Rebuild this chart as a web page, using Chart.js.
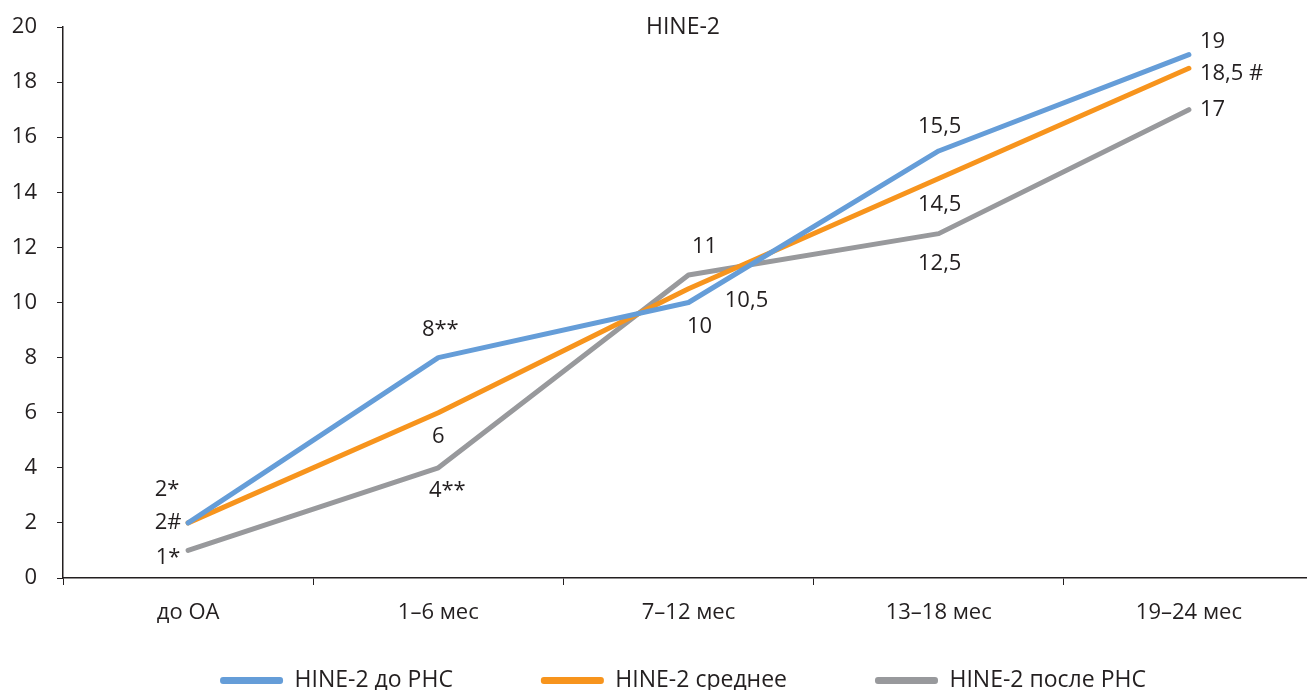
<!DOCTYPE html>
<html>
<head>
<meta charset="utf-8">
<script src="https://cdn.jsdelivr.net/npm/chart.js@4/dist/chart.umd.min.js"></script>
<style>
  html, body { margin: 0; padding: 0; background: #fff; }
  #wrap { width: 1307px; height: 690px; }
</style>
</head>
<body>
<div id="wrap"><canvas id="hineChart"></canvas></div>
<script>
// Chart data
const categories = ['до ОА', '1–6 мес', '7–12 мес', '13–18 мес', '19–24 мес'];
const beforeValues = [2, 8, 10, 15.5, 19];
const meanValues = [2, 6, 10.5, 14.5, 18.5];
const afterValues = [1, 4, 11, 12.5, 17];
const beforeLabels = ['2*', '8**', '10', '15,5', '19'];
const meanLabels = ['2#', '6', '10,5', '14,5', '18,5 #'];
const afterLabels = ['1*', '4**', '11', '12,5', '17'];
const yTicks = [0, 2, 4, 6, 8, 10, 12, 14, 16, 18, 20];

// where each value label sits relative to its point: [dx, dy, align]
const beforeLabelPos = [[-21, -33, 'center'], [2, -28, 'center'], [11, 24, 'center'], [1, -24, 'center'], [11, -13, 'left']];
const meanLabelPos = [[-20, 0, 'center'], [0, 24, 'center'], [58, 12, 'center'], [1, 26, 'center'], [11, 5, 'left']];
const afterLabelPos = [[-20, 7, 'center'], [9, 23, 'center'], [16, -28, 'center'], [1, 30, 'center'], [11, 0, 'left']];

const textColor = '#231f20';
const fontFamily = '"Open Sans", "Noto Sans", sans-serif';

// Draws the value labels next to points
const valueLabels = {
    id: 'valueLabels',
    afterDatasetsDraw(chart) {
        const ctx = chart.ctx;
        ctx.save();
        ctx.font = '22px ' + fontFamily;
        ctx.fillStyle = textColor;
        ctx.textBaseline = 'middle';
        chart.data.datasets.forEach((ds, i) => {
            const meta = chart.getDatasetMeta(i);
            meta.data.forEach((pt, j) => {
                const pos = ds.labelPos[j];
                ctx.textAlign = pos[2];
                ctx.fillText(ds.valueLabels[j], pt.x + pos[0], pt.y + pos[1]);
            });
        });
        ctx.restore();
    }
};

// the x axis in the original runs a few pixels past the right edge of the picture
const widenPlot = {
    id: 'widenPlot',
    afterLayout(chart) {
        const extra = 7;
        const x = chart.scales.x;
        x.right += extra;
        x.width += extra;
        x.configure();
        chart.chartArea.right += extra;
        chart.chartArea.width += extra;
    }
};

// axis boxes are squeezed to place the plot; let their labels draw outside the box
function noLabelClip(scale) {
    scale._computeLabelArea = function() { return undefined; };
}

document.addEventListener('DOMContentLoaded', function() {
    const ctx = document.getElementById('hineChart').getContext('2d');
    new Chart(ctx, {
        type: 'line',
        data: {
            labels: categories,
            datasets: [{
                label: 'HINE-2 до РНС',
                data: beforeValues,
                valueLabels: beforeLabels,
                labelPos: beforeLabelPos,
                borderColor: '#659dd8',
                backgroundColor: '#659dd8'
            }, {
                label: 'HINE-2 среднее',
                data: meanValues,
                valueLabels: meanLabels,
                labelPos: meanLabelPos,
                borderColor: '#f7941d',
                backgroundColor: '#f7941d'
            }, {
                label: 'HINE-2 после РНС',
                data: afterValues,
                valueLabels: afterLabels,
                labelPos: afterLabelPos,
                borderColor: '#98999c',
                backgroundColor: '#98999c'
            }]
        },
        options: {
            responsive: true,
            maintainAspectRatio: false,
            animation: false,
            elements: {
                line: { borderWidth: 5, tension: 0, borderCapStyle: 'round', borderJoinStyle: 'round' },
                point: { radius: 0, hoverRadius: 0 }
            },
            layout: {
                padding: { left: 59, right: 0, top: 0, bottom: -12 }
            },
            plugins: {
                title: {
                    display: true,
                    text: 'HINE-2',
                    color: textColor,
                    font: { family: fontFamily, size: 23, weight: 'normal', lineHeight: 1.2 },
                    padding: { top: 14, bottom: -14.6 }
                },
                legend: {
                    position: 'bottom',
                    labels: {
                        color: textColor,
                        font: { family: fontFamily, size: 23 },
                        boxWidth: 63,
                        boxHeight: 7,
                        useBorderRadius: true,
                        borderRadius: 3,
                        padding: 88,
                        generateLabels: function(chart) {
                            const items = Chart.defaults.plugins.legend.labels.generateLabels(chart);
                            items.forEach(item => { item.lineWidth = 0; });
                            return items;
                        }
                    }
                },
                tooltip: { enabled: false }
            },
            scales: {
                x: {
                    offset: true,
                    afterFit: function(scale) {
                        scale.height = 3;
                        noLabelClip(scale);
                    },
                    grid: {
                        offset: true,
                        drawOnChartArea: false,
                        drawTicks: true,
                        tickLength: 7,
                        color: textColor
                    },
                    border: { display: true, color: textColor, width: 1.5 },
                    ticks: {
                        color: textColor,
                        padding: 15,
                        maxRotation: 0,
                        autoSkip: false,
                        font: { family: fontFamily, size: 22 }
                    }
                },
                y: {
                    min: 0,
                    max: 20,
                    afterFit: function(scale) {
                        scale.width = 4;
                        scale.paddingTop = 0;
                        scale.paddingBottom = 0;
                        noLabelClip(scale);
                    },
                    afterBuildTicks: function(scale) {
                        scale.ticks = yTicks.map(v => ({ value: v }));
                    },
                    grid: {
                        drawOnChartArea: false,
                        drawTicks: true,
                        tickLength: 6,
                        color: textColor
                    },
                    border: { display: true, color: textColor, width: 1.5 },
                    ticks: {
                        color: textColor,
                        padding: 20,
                        font: { family: fontFamily, size: 22 }
                    }
                }
            }
        },
        plugins: [valueLabels, widenPlot]
    });
});
</script>
</body>
</html>
